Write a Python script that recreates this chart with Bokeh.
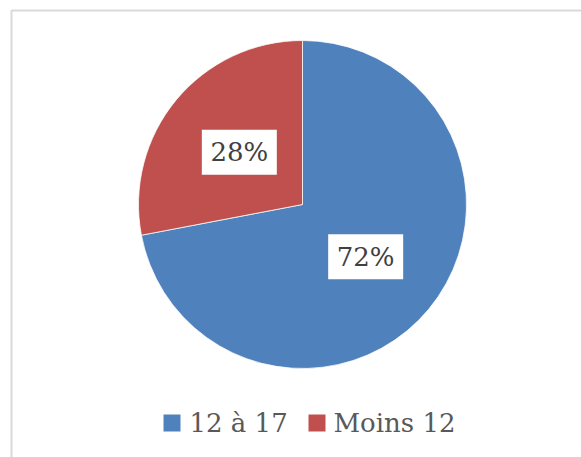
import math
from bokeh.plotting import figure
from bokeh.models import Range1d, ColumnDataSource
from bokeh.core.properties import value
from bokeh.embed import file_html
from bokeh.resources import INLINE

# Data
categories = ["12 à 17", "Moins 12"]
percent = [72, 28]
colors = ["#4F81BD", "#C0504D"]

FONT = "DejaVu Serif"

W, H = 581, 457
p = figure(width=W, height=H, output_backend="svg", toolbar_location=None,
           x_range=Range1d(0, W), y_range=Range1d(0, H), min_border=0)
p.axis.visible = False
p.grid.visible = False
p.outline_line_color = None
p.background_fill_color = "white"
p.border_fill_color = "white"

# frame
p.quad(left=[11], right=[W + 20], top=[H - 10], bottom=[-20],
       fill_color=None, line_color="#d9d9d9", line_width=2)

cx, cy, r = 302, H - 204, 164
total = sum(percent)
starts, ends, lx, ly, labels = [], [], [], [], []
cum = 0.0
for v in percent:
    a0 = math.pi / 2 - 2 * math.pi * cum / total
    cum += v
    a1 = math.pi / 2 - 2 * math.pi * cum / total
    starts.append(a0)
    ends.append(a1)
    mid = (a0 + a1) / 2
    lx.append(cx + 0.5 * r * math.cos(mid))
    ly.append(cy + 0.5 * r * math.sin(mid))
    labels.append(f"{v}%")

src = ColumnDataSource(dict(x=[cx] * len(percent), y=[cy] * len(percent),
                            start=starts, end=ends, color=colors,
                            lx=lx, ly=ly, label=labels))
p.wedge(x="x", y="y", radius=r, start_angle="start", end_angle="end",
        direction="clock", fill_color="color", line_color="white",
        line_width=0.75, source=src)

p.rect(x="lx", y="ly", width=75, height=45, width_units="screen",
       height_units="screen", fill_color="white", line_color=None, source=src)
p.text(x="lx", y="ly", text="label", text_align="center", text_baseline="middle",
       text_font=value(FONT), text_font_size="26px",
       text_color="#404040", source=src)

# legend (manual)
leg_y = H - 422.5
sq_x = [171.5, 316.5]
tx = [189, 333]
p.rect(x=sq_x, y=[leg_y] * 2, width=17, height=17, width_units="screen",
       height_units="screen", fill_color=colors, line_color=None)
p.text(x=tx, y=[leg_y] * 2, text=categories, text_align="left",
       text_baseline="middle", text_font=value(FONT),
       text_font_size="26px", text_color="#595959")

open("out.html", "w").write(file_html(p, INLINE))
